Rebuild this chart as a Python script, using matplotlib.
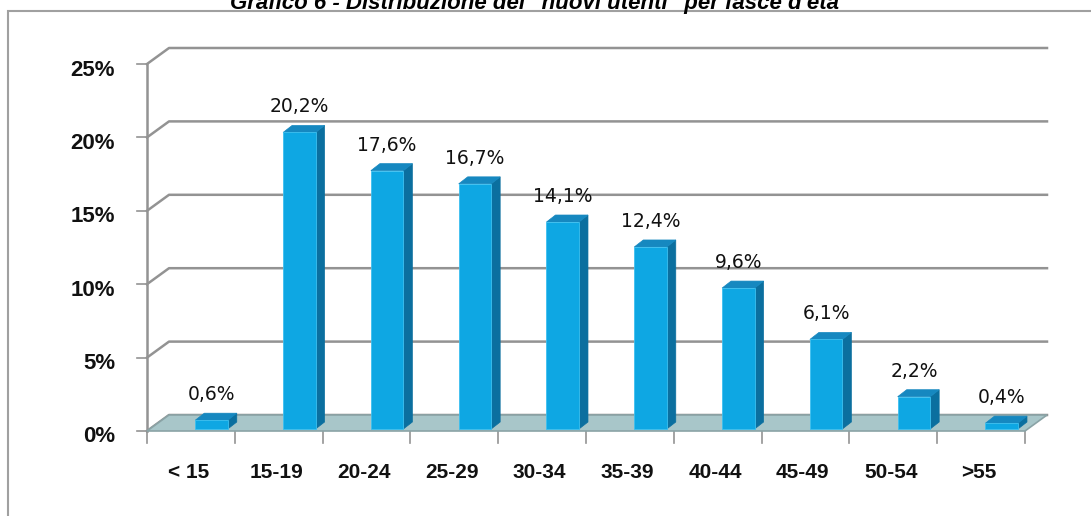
import matplotlib.pyplot as plt
from matplotlib.patches import Polygon, Rectangle

categories = ['< 15', '15-19', '20-24', '25-29', '30-34', '35-39',
              '40-44', '45-49', '50-54', '>55']
values = [0.6, 20.2, 17.6, 16.7, 14.1, 12.4, 9.6, 6.1, 2.2, 0.4]
yticks = [0, 5, 10, 15, 20, 25]
title = 'Grafico 6 - Distribuzione dei "nuovi utenti" per fasce d\'età'

W, H = 1091, 516
fig = plt.figure(figsize=(W / 100, H / 100), dpi=100)
fig.patch.set_facecolor('white')

# front plane of the pseudo-3d chart
x_l, x_r, y_b, y_t = 147, 1025, 431, 64
ax = fig.add_axes([x_l / W, 1 - y_b / H, (x_r - x_l) / W, (y_b - y_t) / H])
ax.set_xlim(-0.5, 9.5)
ax.set_ylim(0, 25)
ax.axis('off')

px = (x_r - x_l) / 10.0   # pixels per category
py = (y_b - y_t) / 25.0   # pixels per percent
DX, DY = 22 / px, 16 / py  # wall depth
grid_c = '#939393'

# back wall gridlines with slanted side-wall part
for v in yticks:
    ax.plot([-0.5, -0.5 + DX, 9.5 + DX], [v, v + DY, v + DY],
            color=grid_c, lw=1.8, clip_on=False, zorder=1)
    ax.plot([-0.5 - 10 / px, -0.5], [v, v], color=grid_c, lw=1.2,
            clip_on=False, zorder=1)
    ax.text(-0.5 - 32 / px, v - 6 / py, f'{v}%', ha='right', va='center',
            fontsize=16, fontweight='bold', family='Liberation Sans',
            color='#111111')
ax.plot([-0.5, -0.5], [0, 25], color=grid_c, lw=1.8, clip_on=False, zorder=1)

# floor
floor = Polygon([(-0.5, 0), (9.5, 0), (9.5 + DX, DY), (-0.5 + DX, DY)],
                closed=True, facecolor='#a8c6c9', edgecolor='#8aa3a6',
                lw=1.2, clip_on=False, zorder=2)
ax.add_patch(floor)

# x ticks and category labels
for i in range(len(categories) + 1):
    ax.plot([i - 0.5, i - 0.5], [0, -12 / py], color=grid_c, lw=1.2,
            clip_on=False, zorder=1)
for i, c in enumerate(categories):
    ax.text(i - 0.03, -42 / py, c, ha='center', va='center', fontsize=15,
            fontweight='bold', family='Liberation Sans', color='#111111')

# bars
b0 = 2 / py
bdx, bdy = 9 / px, 7 / py
front_c, side_c, top_c = '#0ea7e3', '#0b6f9f', '#1688c0'
for i, v in enumerate(values):
    x0, x1 = i + 0.05, i + 0.42
    top = b0 + v
    ax.add_patch(Polygon([(x1, b0), (x1 + bdx, b0 + bdy), (x1 + bdx, top + bdy),
                          (x1, top)], closed=True, facecolor=side_c,
                         edgecolor=side_c, lw=0.5, clip_on=False, zorder=3))
    ax.add_patch(Polygon([(x0, top), (x1, top), (x1 + bdx, top + bdy),
                          (x0 + bdx, top + bdy)], closed=True, facecolor=top_c,
                         edgecolor=top_c, lw=0.5, clip_on=False, zorder=3))
    ax.add_patch(Rectangle((x0, b0), x1 - x0, v, facecolor=front_c,
                           edgecolor='#3cc0f0', lw=0.6, clip_on=False, zorder=4))
    ax.text((x0 + x1) / 2, top + bdy + 9 / py, f'{v:.1f}%'.replace('.', ','),
            ha='center', va='bottom', fontsize=13.5, family='DejaVu Sans',
            fontweight='medium', color='#111111', zorder=5)

# outer chart border and (cut) title
fig.add_artist(Rectangle((8 / W, -0.1), 1.2, 1 - 11 / H + 0.1,
                         transform=fig.transFigure, fill=False,
                         edgecolor='#a0a0a0', lw=1.5))
fig.text(535 / W, 1 - 9 / H, title, ha='center', va='baseline', fontsize=16,
         fontweight='bold', fontstyle='italic', family='Liberation Sans')

fig.savefig('out.png', dpi=100)
